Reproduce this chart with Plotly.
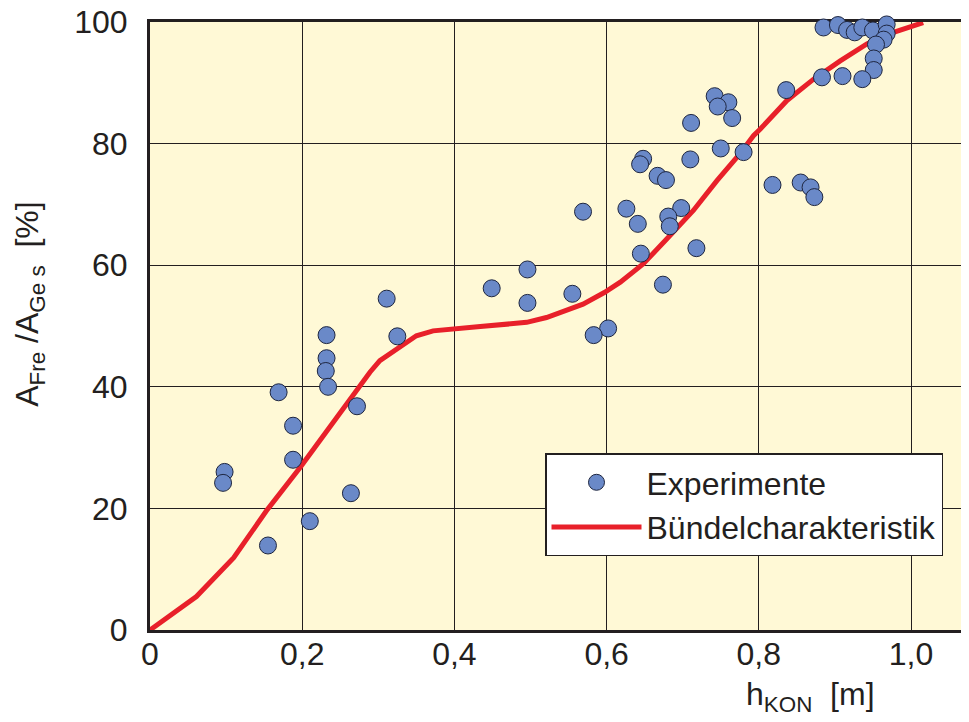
import plotly.graph_objects as go

# Experimental points: h_KON [m], A_Fre/A_Ges [%]
exp_x = [0.311, 0.232, 0.325, 0.232, 0.231, 0.234, 0.169, 0.272, 0.188, 0.188,
         0.098, 0.096, 0.264, 0.210, 0.155,
         0.569, 0.626, 0.641, 0.645, 0.648, 0.644, 0.496, 0.449, 0.496, 0.555,
         0.602, 0.583,
         0.742, 0.760, 0.746, 0.765, 0.711, 0.836, 0.750, 0.780, 0.710, 0.667,
         0.678, 0.818, 0.855, 0.868, 0.873, 0.698, 0.681, 0.683, 0.718, 0.674,
         0.885, 0.904, 0.916, 0.926, 0.936, 0.950, 0.968, 0.968, 0.964, 0.954,
         0.951, 0.951, 0.936, 0.910, 0.883]
exp_y = [54.5, 48.5, 48.3, 44.7, 42.6, 40.0, 39.1, 36.8, 33.6, 28.0,
         26.0, 24.2, 22.5, 17.9, 13.9,
         68.8, 69.3, 66.8, 61.9, 77.5, 76.6, 59.3, 56.2, 53.8, 55.3,
         49.6, 48.5,
         87.8, 86.8, 86.1, 84.2, 83.4, 88.8, 79.2, 78.6, 77.4, 74.7,
         74.0, 73.2, 73.6, 72.8, 71.2, 69.4, 68.0, 66.4, 62.8, 56.8,
         99.1, 99.5, 98.7, 98.3, 99.1, 98.6, 99.6, 98.1, 97.1, 96.3,
         94.0, 92.1, 90.6, 91.1, 90.9]

# Bundle characteristic curve
curve_x = [0.0, 0.061, 0.110, 0.153, 0.197, 0.241, 0.267, 0.289, 0.302, 0.329,
           0.350, 0.372, 0.394, 0.434, 0.495, 0.521, 0.569, 0.597, 0.618, 0.648,
           0.679, 0.714, 0.745, 0.775, 0.793, 0.802, 0.837, 0.872, 0.907, 0.942,
           0.977, 1.016]
curve_y = [0.0, 5.5, 11.9, 19.6, 26.7, 34.1, 38.8, 42.4, 44.3, 46.5,
           48.4, 49.2, 49.5, 49.9, 50.6, 51.4, 53.6, 55.5, 57.2, 60.2,
           64.3, 69.0, 73.9, 78.3, 81.3, 82.4, 87.1, 90.6, 93.6, 96.4,
           98.3, 99.9]

x_tickvals = [0, 0.2, 0.4, 0.6, 0.8, 1.0]
x_ticktext = ["0", "0,2", "0,4", "0,6", "0,8", "1,0"]
y_tickvals = [0, 20, 40, 60, 80, 100]

FONT = "Liberation Sans, Arial, Helvetica, sans-serif"
INK = "#231F20"
FS = 32

fig = go.Figure()
fig.add_trace(go.Scatter(
    x=curve_x, y=curve_y, mode="lines", name="Bündelcharakteristik",
    line=dict(color="#E8202A", width=5), cliponaxis=False,
))
fig.add_trace(go.Scatter(
    x=exp_x, y=exp_y, mode="markers", name="Experimente",
    marker=dict(size=17, color="#6A89C8", line=dict(color="#1E2640", width=1)),
    cliponaxis=False,
))

# page body has an 8px default margin: the figure is sized/offset to compensate
fig.update_layout(
    width=961, height=714,
    margin=dict(l=142, r=0, t=14, b=92),
    paper_bgcolor="white", plot_bgcolor="#FFF9D6",
    font=dict(family=FONT, size=FS, color=INK),
    showlegend=True,
    legend=dict(
        x=0.4823, y=0.2056, xanchor="left", yanchor="middle",
        bgcolor="white", bordercolor=INK, borderwidth=1.5,
        font=dict(size=FS, color=INK), traceorder="reversed",
        itemwidth=90, tracegroupgap=0,
    ),
    xaxis=dict(
        range=[0, 1.0762], tickvals=x_tickvals, ticktext=x_ticktext,
        showgrid=True, gridcolor=INK, gridwidth=1,
        showline=True, linecolor=INK, linewidth=3, mirror=True,
        zeroline=False, ticks="", layer="below traces", automargin=False,
        ticklabelstandoff=-6, ticklabeloverflow="allow",
        tickfont=dict(size=FS, color=INK),
    ),
    yaxis=dict(
        range=[0, 100], tickvals=y_tickvals,
        showgrid=True, gridcolor=INK, gridwidth=1,
        showline=True, linecolor=INK, linewidth=3,
        zeroline=False, ticks="", ticklabelstandoff=13, layer="below traces",
        automargin=False, ticklabeloverflow="allow",
        tickfont=dict(size=FS, color=INK),
    ),
    annotations=[
        dict(text="h<sub>KON</sub>\u00a0\u00a0[m]", xref="paper", yref="paper",
             x=0.807, y=-0.11, xanchor="center", yanchor="middle",
             showarrow=False, font=dict(size=FS, color=INK)),
        dict(text="A<sub>Fre</sub> /A<sub>Ge s</sub>\u00a0\u00a0[%]", xref="paper", yref="paper",
             x=-0.147, y=0.536, xanchor="center", yanchor="middle", textangle=-90,
             showarrow=False, font=dict(size=FS, color=INK)),
    ],
)

fig.write_html("out.html")
